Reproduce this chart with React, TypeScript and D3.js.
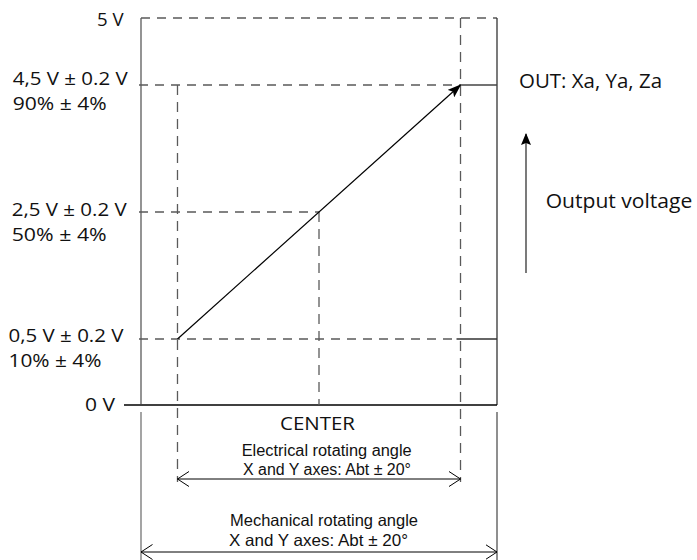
import React from "react";
import * as d3 from "d3";

// ---- data ----
const levels: number[] = [0, 0.5, 2.5, 4.5, 5];
const levelLabels: string[][] = [
  ["0 V"],
  ["0,5 V ± 0.2 V", "10% ± 4%"],
  ["2,5 V ± 0.2 V", "50% ± 4%"],
  ["4,5 V ± 0.2 V", "90% ± 4%"],
  ["5 V"],
];
const mechanicalRange: number[] = [-1, 1];
const electricalRange: number[] = [-0.795, 0.795];
const centerAngle = 0;
const outputLine: { angle: number; volt: number }[] = [
  { angle: -0.795, volt: 0.5 },
  { angle: 0.795, volt: 4.5 },
];
const outLabel = "OUT: Xa, Ya, Za";
const outputVoltageLabel = "Output voltage";
const centerLabel = "CENTER";
const electricalLabel = ["Electrical rotating angle", "X and Y axes: Abt  ± 20°"];
const mechanicalLabel = ["Mechanical rotating angle", "X and Y axes: Abt  ± 20°"];

const FONT = "'Open Sans', 'DejaVu Sans', sans-serif";
const SMALL_FONT = "'Liberation Sans', Arial, sans-serif";

export default function App() {
  const W = 697;
  const H = 560;
  const y = d3.scaleLinear().domain(levels).range([405, 339, 212, 85, 18]);
  const x = d3.scaleLinear().domain(mechanicalRange).range([141, 497]);

  const xL = x(mechanicalRange[0]);
  const xR = x(mechanicalRange[1]);
  const xeL = x(electricalRange[0]);
  const xeR = x(electricalRange[1]);
  const xc = x(centerAngle);
  const dash = "9,7";
  const gray = "#5a5a5a";

  const line = d3
    .line<{ angle: number; volt: number }>()
    .x((d) => x(d.angle))
    .y((d) => y(d.volt));

  const labelLayout: Record<number, { x: number; anchor: string; w: number[]; dy: number }> = {
    0: { x: 115, anchor: "end", w: [30], dy: 6 },
    0.5: { x: 8.5, anchor: "start", w: [115, 93], dy: 2.5 },
    2.5: { x: 11.7, anchor: "start", w: [115, 95], dy: 3.5 },
    4.5: { x: 12.7, anchor: "start", w: [115, 94], dy: -0.5 },
    5: { x: 123.5, anchor: "end", w: [26.6], dy: 8 },
  };

  const yElec = 479;
  const yMech = 552;

  return (
    <svg
      width={W}
      height={H}
      style={{ position: "absolute", left: 0, top: 0, background: "#fff" }}
      fontFamily={FONT}
    >
      <defs>
        <marker id="fillHead" viewBox="0 0 14 10" refX="13" refY="5" markerWidth="14" markerHeight="10" markerUnits="userSpaceOnUse" orient="auto">
          <path d="M0,0 L14,5 L0,10 L3,5 Z" fill="#000" />
        </marker>
        <marker id="upHead" viewBox="0 0 12 10" refX="11" refY="5" markerWidth="12" markerHeight="10" markerUnits="userSpaceOnUse" orient="auto">
          <path d="M0,0 L12,5 L0,10 L2,5 Z" fill="#000" />
        </marker>
        <marker id="openHead" viewBox="0 0 12 16" refX="11.5" refY="8" markerWidth="12" markerHeight="16" markerUnits="userSpaceOnUse" orient="auto-start-reverse">
          <path d="M0,0.5 L11.5,8 L0,15.5" fill="none" stroke="#000" strokeWidth="1" />
        </marker>
      </defs>

      {/* frame: top dashed, left/right solid */}
      <line x1={xL} x2={xR} y1={y(5)} y2={y(5)} stroke={gray} strokeWidth={1.3} strokeDasharray={dash} />
      <line x1={xL} x2={xL} y1={y(5)} y2={y(0) - 1} stroke={gray} strokeWidth={1.3} />
      <line x1={xR} x2={xR} y1={y(5)} y2={y(0)} stroke="#333" strokeWidth={1.3} />

      {/* extension lines below */}
      <line x1={xL} x2={xL} y1={412} y2={H} stroke={gray} strokeWidth={1.1} />
      <line x1={xR} x2={xR} y1={412} y2={H} stroke="#333" strokeWidth={1.1} />

      {/* horizontal level lines */}
      <line x1={xL - 2} x2={xeR} y1={y(4.5)} y2={y(4.5)} stroke={gray} strokeWidth={1.3} strokeDasharray={dash} />
      <line x1={xeR} x2={xR} y1={y(4.5)} y2={y(4.5)} stroke="#444" strokeWidth={1.3} />
      <line x1={xL - 2} x2={xc} y1={y(2.5)} y2={y(2.5)} stroke={gray} strokeWidth={1.3} strokeDasharray={dash} />
      <line x1={xL - 2} x2={xeR - 4} y1={y(0.5)} y2={y(0.5)} stroke={gray} strokeWidth={1.3} strokeDasharray={dash} />
      <line x1={xeR - 4} x2={xR} y1={y(0.5)} y2={y(0.5)} stroke="#333" strokeWidth={1.3} />
      <line x1={124} x2={xR} y1={y(0)} y2={y(0)} stroke="#000" strokeWidth={1.4} />

      {/* vertical dashed lines */}
      <line x1={xeL} x2={xeL} y1={y(4.5)} y2={yElec + 3} stroke={gray} strokeWidth={1.3} strokeDasharray="10,7" />
      <line x1={xeR} x2={xeR} y1={y(5)} y2={yElec + 3} stroke={gray} strokeWidth={1.3} strokeDasharray="10,7" />
      <line x1={xc} x2={xc} y1={y(2.5)} y2={y(0)} stroke={gray} strokeWidth={1.3} strokeDasharray="10,7" />

      {/* output line */}
      <path d={line(outputLine) || ""} stroke="#000" strokeWidth={1.2} fill="none" markerEnd="url(#fillHead)" />

      {/* output voltage arrow */}
      <line x1={526} x2={526} y1={273} y2={134} stroke="#222" strokeWidth={1.2} markerEnd="url(#upHead)" />

      {/* dimension arrows */}
      <line x1={xeL} x2={xeR} y1={yElec} y2={yElec} stroke="#000" strokeWidth={1} markerStart="url(#openHead)" markerEnd="url(#openHead)" />
      <line x1={xL} x2={xR} y1={yMech} y2={yMech} stroke="#000" strokeWidth={1} markerStart="url(#openHead)" markerEnd="url(#openHead)" />

      {/* level labels */}
      {levels.map((v, i) => {
        const L = labelLayout[v];
        return levelLabels[i].map((t, j) => (
          <text
            key={`${v}-${j}`}
            x={L.x}
            y={y(v) + L.dy + j * 25.5}
            textAnchor={L.anchor}
            fontSize={19}
            fill="#111"
            textLength={L.w[j]}
            lengthAdjust="spacingAndGlyphs"
          >
            {t}
          </text>
        ));
      })}

      {/* right annotations */}
      <text x={519} y={88.3} fontSize={19.5} fill="#111" textLength={143} lengthAdjust="spacingAndGlyphs">
        {outLabel}
      </text>
      <text x={545.7} y={208.3} fontSize={20} fill="#111" textLength={146.6} lengthAdjust="spacingAndGlyphs">
        {outputVoltageLabel}
      </text>

      {/* bottom labels */}
      <text x={280} y={430} fontSize={18.5} fill="#111" textLength={75} lengthAdjust="spacingAndGlyphs">
        {centerLabel}
      </text>
      <g fontFamily={SMALL_FONT} fill="#111" style={{ whiteSpace: "pre" }}>
        <text x={241.7} y={456} fontSize={15.8} textLength={170} lengthAdjust="spacingAndGlyphs">
          {electricalLabel[0]}
        </text>
        <text x={243} y={474.5} fontSize={15.8} textLength={168} lengthAdjust="spacingAndGlyphs">
          {electricalLabel[1]}
        </text>
        <text x={230} y={526} fontSize={16.5} textLength={188} lengthAdjust="spacingAndGlyphs">
          {mechanicalLabel[0]}
        </text>
        <text x={229} y={545.5} fontSize={16.5} textLength={179} lengthAdjust="spacingAndGlyphs">
          {mechanicalLabel[1]}
        </text>
      </g>
    </svg>
  );
}
